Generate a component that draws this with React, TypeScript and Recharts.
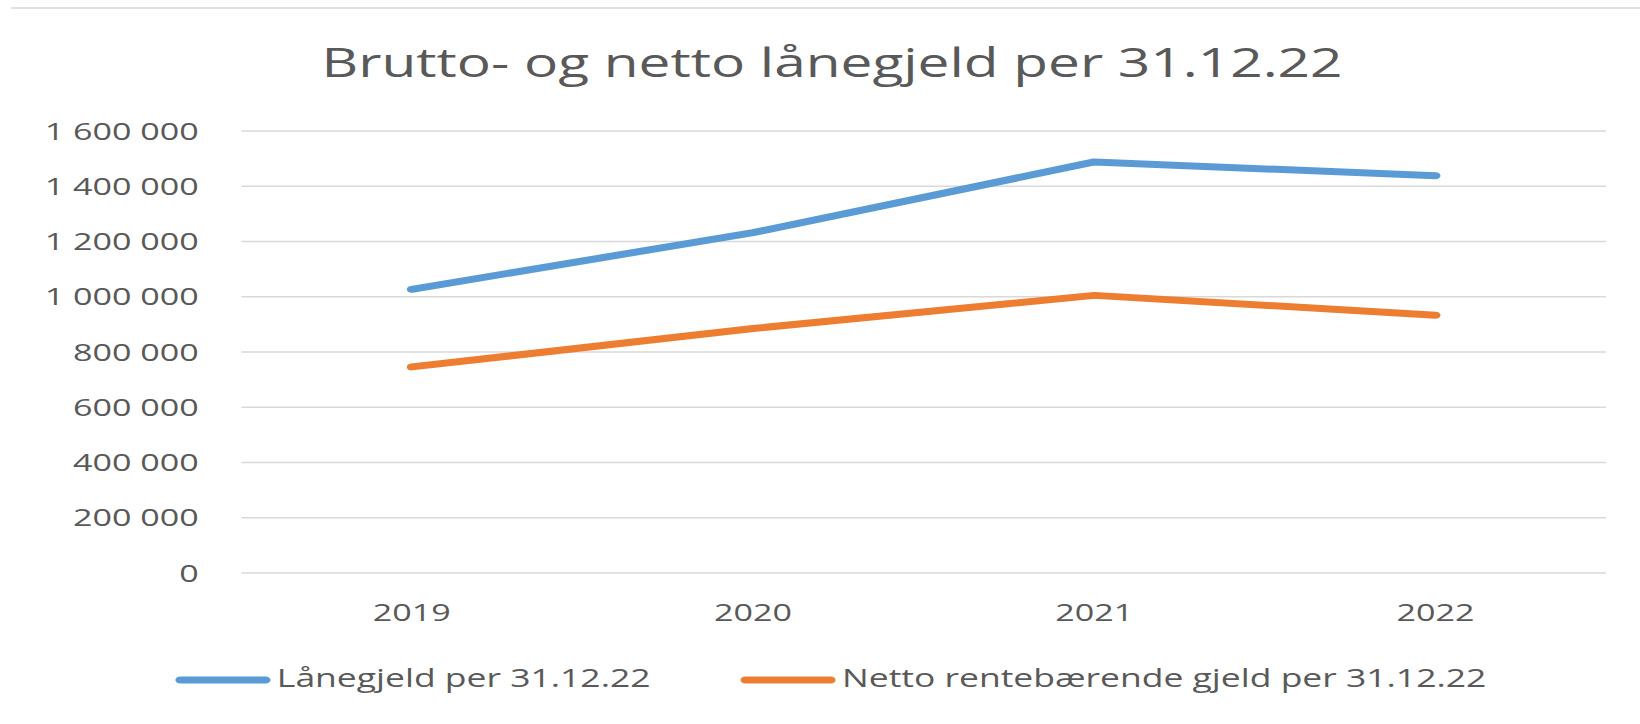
import React from "react";
import { CartesianGrid, Line, LineChart, XAxis, YAxis } from "recharts";

const YEARS = ["2019", "2020", "2021", "2022"];
const GROSS_DEBT = [1027000, 1232000, 1488000, 1438000];
const NET_DEBT = [746000, 885000, 1005000, 933000];
const Y_TICKS = [0, 200000, 400000, 600000, 800000, 1000000, 1200000, 1400000, 1600000];

const TITLE = "Brutto- og netto lånegjeld per 31.12.22";
const SERIES = [
  { key: "gross", name: "Lånegjeld per 31.12.22", color: "#5B9BD5" },
  { key: "net", name: "Netto rentebærende gjeld per 31.12.22", color: "#ED7D31" },
];

const data = YEARS.map((year, i) => ({ year, gross: GROSS_DEBT[i], net: NET_DEBT[i] }));

// reference is a horizontally stretched picture, so draw narrow and stretch
const FULL_W = 1640;
const H = 724;
const W = 1155;
const SX = FULL_W / W;

const FONT = "'Open Sans', sans-serif";
const TEXT = "#595959";

const fmt = (v: number) => String(v).replace(/\B(?=(\d{3})+(?!\d))/g, " ");

const LEGEND_X = [124, 522];

export default function App() {
  return (
    <div style={{ position: "absolute", left: 0, top: 0, width: FULL_W, height: H, background: "#fff", overflow: "hidden" }}>
      <div style={{ position: "absolute", left: 11, top: 7, right: 0, height: 2, background: "#E0E0E0" }} />
      <div style={{ position: "absolute", left: 0, top: 0, width: W, height: H, transform: `scaleX(${SX})`, transformOrigin: "0 0" }}>
        <LineChart width={W} height={H} data={data} margin={{ top: 131, right: 24, left: 0, bottom: 121 }}>
          <CartesianGrid stroke="#D9D9D9" strokeWidth={1.5} vertical={false} />
          <XAxis dataKey="year" axisLine={false} tickLine={false} tickSize={0} tickMargin={31}
                 padding={{ left: 120, right: 120 }}
                 tick={{ fill: TEXT, fontSize: 24, fontFamily: FONT }} interval={0} />
          <YAxis width={170} domain={[0, 1600000]} ticks={Y_TICKS} axisLine={false} tickLine={false}
                 tickSize={0} tickMargin={30} tickFormatter={fmt} interval={0}
                 tick={{ fill: TEXT, fontSize: 24, fontFamily: FONT }} />
          {SERIES.map((s) => (
            <Line key={s.key} type="linear" dataKey={s.key} name={s.name} stroke={s.color} strokeWidth={7}
                  strokeLinecap="round" strokeLinejoin="round" dot={false} activeDot={false} isAnimationActive={false} />
          ))}
        </LineChart>
        <svg width={W} height={H} style={{ position: "absolute", left: 0, top: 0, pointerEvents: "none" }}>
          <text x={586} y={77} textAnchor="middle" fill={TEXT} fontSize={40} fontFamily={FONT}>{TITLE}</text>
          {SERIES.map((s, i) => (
            <g key={s.key}>
              <line x1={LEGEND_X[i] + 3} x2={LEGEND_X[i] + 63} y1={680} y2={680} stroke={s.color} strokeWidth={7} strokeLinecap="round" />
              <text x={LEGEND_X[i] + 71} y={687} fill={TEXT} fontSize={25} fontFamily={FONT}>{s.name}</text>
            </g>
          ))}
        </svg>
      </div>
    </div>
  );
}
